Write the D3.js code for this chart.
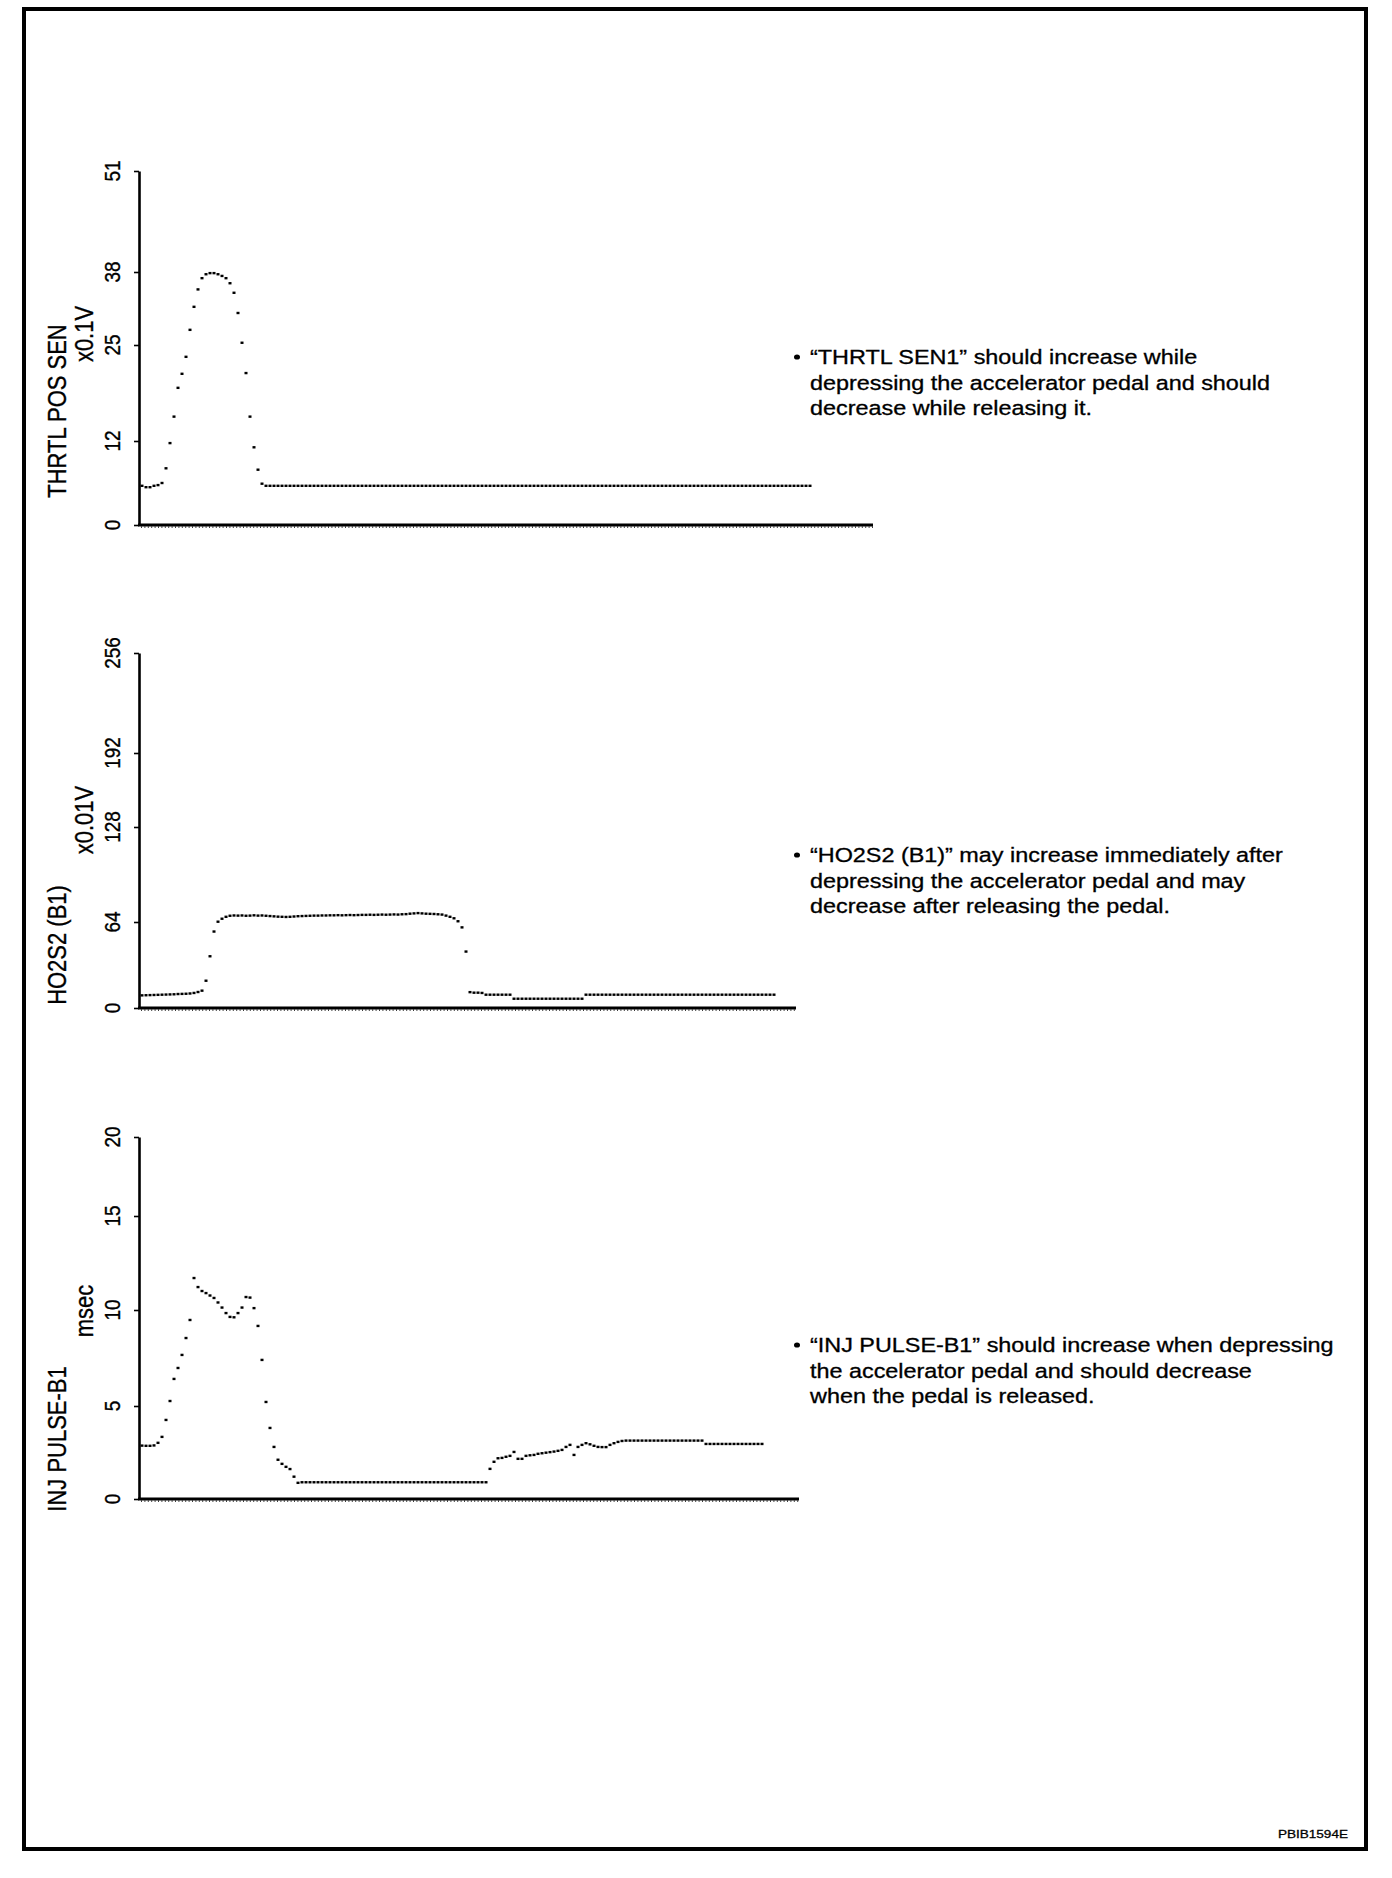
<!DOCTYPE html>
<html>
<head>
<meta charset="utf-8">
<script src="https://cdn.jsdelivr.net/npm/d3@7"></script>
<style>
body { margin: 0; background: #fff; }
svg { display: block; }
text { font-family: "Liberation Sans", Arial, Helvetica, sans-serif; fill: #000; stroke: #000; stroke-width: 0.3; }
</style>
</head>
<body>
<svg id="chart"></svg>
<script>
// Values (one sample per dot)
const throttleTicks = [0, 12, 25, 38, 51];
const throttleValues = [
    5.6, 5.4, 5.4, 5.6, 5.7, 6.0,
    8.1, 11.7, 15.3, 19.2, 21.1, 23.4, 27.7, 31.8, 34.9, 36.9,
    37.6, 37.8, 37.8, 37.6, 37.3, 36.9, 36.0, 34.3, 30.7, 25.4,
    21.2, 15.3, 11.1, 7.9, 5.9,
    5.6, 5.6, 5.6, 5.6, 5.6, 5.6, 5.6, 5.6, 5.6, 5.6, 5.6, 5.6, 5.6, 5.6, 5.6, 5.6, 5.6, 5.6, 5.6, 5.6,
    5.6, 5.6, 5.6, 5.6, 5.6, 5.6, 5.6, 5.6, 5.6, 5.6, 5.6, 5.6, 5.6, 5.6, 5.6, 5.6, 5.6, 5.6, 5.6, 5.6,
    5.6, 5.6, 5.6, 5.6, 5.6, 5.6, 5.6, 5.6, 5.6, 5.6, 5.6, 5.6, 5.6, 5.6, 5.6, 5.6, 5.6, 5.6, 5.6, 5.6,
    5.6, 5.6, 5.6, 5.6, 5.6, 5.6, 5.6, 5.6, 5.6, 5.6, 5.6, 5.6, 5.6, 5.6, 5.6, 5.6, 5.6, 5.6, 5.6, 5.6,
    5.6, 5.6, 5.6, 5.6, 5.6, 5.6, 5.6, 5.6, 5.6, 5.6, 5.6, 5.6, 5.6, 5.6, 5.6, 5.6, 5.6, 5.6, 5.6, 5.6,
    5.6, 5.6, 5.6, 5.6, 5.6, 5.6, 5.6, 5.6, 5.6, 5.6, 5.6, 5.6, 5.6, 5.6, 5.6, 5.6, 5.6, 5.6, 5.6, 5.6,
    5.6, 5.6, 5.6, 5.6, 5.6, 5.6, 5.6, 5.6, 5.6, 5.6, 5.6, 5.6, 5.6, 5.6, 5.6, 5.6, 5.6
];

const ho2s2Ticks = [0, 64, 128, 192, 256];
const ho2s2Values = [
    9.4, 9.5, 9.6, 9.7, 9.8, 9.9, 10.0, 10.1, 10.2, 10.4, 10.5, 10.6, 10.8, 11.2, 11.9,
    12.9, 20.3, 38.5, 56.9, 64.2, 66.2, 67.5,
    68.2, 68.4, 68.3, 68.4, 68.2, 68.3, 68.5, 68.3, 68.4,
    68.2, 68.0, 67.8, 67.6, 67.5, 67.4, 67.5, 67.7, 67.9, 68.0,
    68.1, 68.2, 68.3, 68.3, 68.4, 68.4, 68.5, 68.5, 68.6, 68.5, 68.6, 68.7, 68.6, 68.7, 68.8,
    68.8, 68.9, 68.8, 68.9, 69.0, 68.9, 69.0, 69.1, 69.0, 69.2, 69.3,
    69.6, 69.8, 70.0, 69.8, 69.6, 69.5, 69.4, 69.2, 69.0,
    68.3, 67.5, 66.5, 64.5, 60.0, 42.0, 11.8,
    11.4, 11.4, 11.2,
    9.9, 9.9, 9.9, 9.9, 9.9, 9.9, 9.9,
    6.9, 6.9, 6.9, 6.9, 6.9, 6.9, 6.9, 6.9, 6.9, 6.9, 6.9, 6.9, 6.9, 6.9, 6.9, 6.9, 6.9, 6.9,
    9.9, 9.9, 9.9, 9.9, 9.9, 9.9, 9.9, 9.9, 9.9, 9.9, 9.9, 9.9, 9.9, 9.9, 9.9, 9.9,
    9.9, 9.9, 9.9, 9.9, 9.9, 9.9, 9.9, 9.9, 9.9, 9.9, 9.9, 9.9, 9.9, 9.9, 9.9, 9.9,
    9.9, 9.9, 9.9, 9.9, 9.9, 9.9, 9.9, 9.9, 9.9, 9.9, 9.9, 9.9, 9.9, 9.9, 9.9, 9.9
];

const injTicks = [0, 5, 10, 15, 20];
const injValues = [
    2.87, 2.86, 2.86, 2.88, 3.02, 3.34, 4.25, 5.26, 6.41, 6.98, 7.66, 8.54, 9.48,
    11.7, 11.22, 11.01, 10.9, 10.77, 10.64, 10.4, 10.13, 9.84, 9.64, 9.62, 9.84, 10.13, 10.69,
    10.66, 10.1, 9.17, 7.4, 5.21, 3.82, 2.8, 2.11, 1.89, 1.73, 1.61, 1.2, 0.87,
    0.9, 0.9, 0.9, 0.9, 0.9, 0.9, 0.9, 0.9, 0.9, 0.9, 0.9, 0.9, 0.9, 0.9, 0.9, 0.9,
    0.9, 0.9, 0.9, 0.9, 0.9, 0.9, 0.9, 0.9, 0.9, 0.9, 0.9, 0.9, 0.9, 0.9, 0.9, 0.9,
    0.9, 0.9, 0.9, 0.9, 0.9, 0.9, 0.9, 0.9, 0.9, 0.9, 0.9, 0.9, 0.9, 0.9, 0.9,
    1.62, 2.0, 2.19, 2.21, 2.27, 2.32, 2.53, 2.16, 2.16, 2.32,
    2.35, 2.37, 2.43, 2.46, 2.49, 2.52, 2.55, 2.59, 2.64, 2.8,
    2.91, 2.37, 2.8, 2.91, 3.0, 2.94, 2.86, 2.8, 2.79, 2.79,
    2.91, 3.0, 3.07, 3.12,
    3.14, 3.14, 3.14, 3.14, 3.14, 3.14, 3.14, 3.14, 3.14, 3.14,
    3.14, 3.14, 3.14, 3.14, 3.14, 3.14, 3.14, 3.14, 3.14, 3.14,
    2.96, 2.96, 2.96, 2.96, 2.96, 2.96, 2.96, 2.96, 2.96, 2.96, 2.96, 2.96, 2.96, 2.96, 2.96
];

const titles = ["THRTL POS SEN", "HO2S2 (B1)", "INJ PULSE-B1"];
const units = ["x0.1V", "x0.01V", "msec"];
const notes = [
    ["\u201cTHRTL SEN1\u201d should increase while",
     "depressing the accelerator pedal and should",
     "decrease while releasing it."],
    ["\u201cHO2S2 (B1)\u201d may increase immediately after",
     "depressing the accelerator pedal and may",
     "decrease after releasing the pedal."],
    ["\u201cINJ PULSE-B1\u201d should increase when depressing",
     "the accelerator pedal and should decrease",
     "when the pedal is released."]
];
const figureCode = "PBIB1594E";

// Page layout (the scan is stretched ~1.2x horizontally, so text is too)
const width = 1392;
const height = 1878;
const SX = 1.2;

const panels = [
    { ticks: throttleTicks, values: throttleValues, tickPx: [525, 441, 345, 272, 171],
      xEnd: 873, dataX: [142, 810], titleY: 411, unitY: 334, noteY: 357 },
    { ticks: ho2s2Ticks, values: ho2s2Values, tickPx: [1008, 922, 827, 753, 653],
      xEnd: 796, dataX: [142, 774], titleY: 945, unitY: 820, noteY: 855 },
    { ticks: injTicks, values: injValues, tickPx: [1499, 1406, 1310, 1216, 1137],
      xEnd: 799, dataX: [142, 762], titleY: 1439, unitY: 1311, noteY: 1345 }
];
panels.forEach((p, i) => { p.title = titles[i]; p.unit = units[i]; p.note = notes[i]; });

const axisX = 139;

const svg = d3.select("#chart")
    .attr("width", width)
    .attr("height", height);

svg.append("rect")
    .attr("width", width).attr("height", height)
    .attr("fill", "#fff");

// Frame round the figure
svg.append("rect")
    .attr("x", 24).attr("y", 9)
    .attr("width", 1342).attr("height", 1840)
    .attr("fill", "none")
    .attr("stroke", "#000")
    .attr("stroke-width", 4);

function rotatedLabel(g, x, y, txt, size) {
    g.append("text")
        .attr("transform", `translate(${x},${y}) scale(${SX},1) rotate(-90)`)
        .attr("text-anchor", "middle")
        .attr("font-size", size)
        .text(txt);
}

panels.forEach(p => {
    // The printed ticks are not evenly spaced, so the scale follows them piecewise
    const y = d3.scaleLinear().domain(p.ticks).range(p.tickPx);
    const x = d3.scaleLinear().domain([0, p.values.length - 1]).range(p.dataX);

    const g = svg.append("g");

    // y axis
    const yAxis = g.append("g")
        .attr("transform", `translate(${axisX},0)`)
        .call(d3.axisLeft(y).tickValues(p.ticks).tickSize(5).tickSizeOuter(0).tickFormat(""));
    yAxis.select(".domain").attr("stroke-width", 2.6);
    yAxis.selectAll(".tick line").attr("stroke-width", 1.6);
    yAxis.selectAll(".tick text").remove();

    p.ticks.forEach(t => rotatedLabel(g, 120, y(t), t, 19));

    // x axis (bare line with a fine comb underneath)
    const y0 = y(0);
    g.append("line")
        .attr("x1", axisX - 1).attr("x2", p.xEnd)
        .attr("y1", y0).attr("y2", y0)
        .attr("stroke", "#000").attr("stroke-width", 3);
    g.append("line")
        .attr("x1", axisX + 2).attr("x2", p.xEnd)
        .attr("y1", y0 + 2.2).attr("y2", y0 + 2.2)
        .attr("stroke", "#000").attr("stroke-width", 1.2)
        .attr("stroke-dasharray", "1,2.4");

    // titles
    rotatedLabel(g, 66, p.titleY, p.title, 22);
    rotatedLabel(g, 93, p.unitY, p.unit, 22);

    // sampled points
    g.append("g")
        .selectAll("rect")
        .data(p.values)
        .join("rect")
        .attr("x", (d, i) => x(i) - 1.5)
        .attr("y", d => y(d) - 1.2)
        .attr("width", 3)
        .attr("height", 2.4)
        .attr("fill", "#000");

    // note text
    g.append("ellipse")
        .attr("cx", 797).attr("cy", p.noteY)
        .attr("rx", 3).attr("ry", 2.6)
        .attr("fill", "#000");
    p.note.forEach((line, k) => {
        g.append("text")
            .attr("transform", `translate(810,${p.noteY + 7 + k * 25.5}) scale(${SX},1)`)
            .attr("font-size", 19.5)
            .text(line);
    });
});

svg.append("text")
    .attr("transform", `translate(1348,1838) scale(1.17,1)`)
    .attr("text-anchor", "end")
    .attr("font-size", 11.6)
    .text(figureCode);
</script>
</body>
</html>
